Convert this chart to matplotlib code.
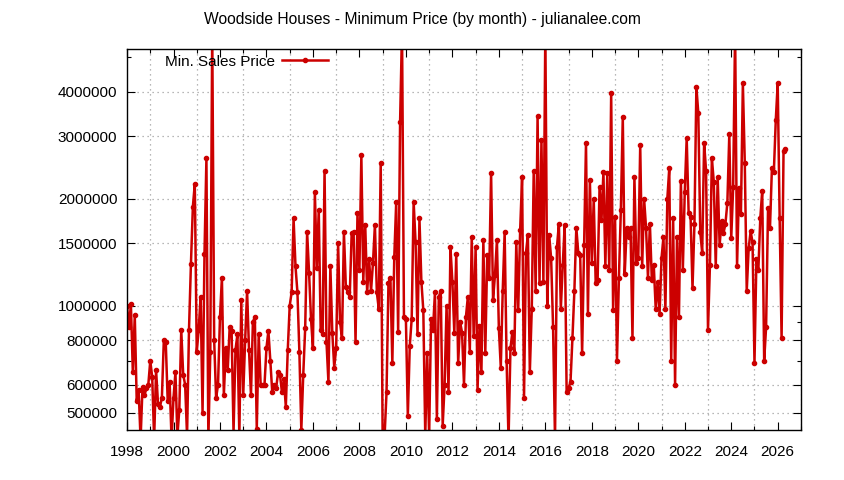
import matplotlib
matplotlib.use("Agg")
import matplotlib.pyplot as plt
from matplotlib.ticker import FixedLocator, FixedFormatter, MultipleLocator, NullFormatter
import numpy as np

# Monthly minimum sales price (in millions), Jan 1998 onwards
prices_m = [
    1.0, 0.87, 1.01, 0.65, 0.94, 0.54, 0.58, 0.42, 0.59, 0.56, 0.585, 0.60,
    0.70, 0.63, 0.42, 0.66, 0.53, 0.52, 0.55, 0.80, 0.79, 0.54, 0.61, 0.42,
    0.55, 0.65, 0.43, 0.51, 0.855, 0.64, 0.6, 0.43, 0.855, 1.31, 1.9, 2.2,
    0.74, 0.855, 1.06, 0.5, 1.4, 2.6, 0.42, 0.74, 6.0, 0.8, 0.55, 0.6,
    0.93, 1.2, 0.56, 0.76, 0.66, 0.87, 0.85, 0.44, 0.75, 0.83, 0.43, 1.04,
    0.56, 0.8, 1.1, 0.75, 0.56, 0.9, 0.93, 0.45, 0.83, 0.6, 0.6, 0.6,
    0.76, 0.85, 0.7, 0.57, 0.6, 0.585, 0.65, 0.64, 0.57, 0.62, 0.52, 0.75,
    # 2005 - 2007
    1.0, 1.09, 1.76, 1.29, 1.09, 0.74, 0.447, 0.64, 0.865, 1.61, 1.24, 0.92,
    0.76, 2.09, 1.28, 1.86, 0.855, 0.83, 2.4, 0.79, 0.61, 1.29, 0.84, 0.67,
    0.76, 1.5, 0.9, 0.81, 1.61, 1.13, 1.09, 1.06, 1.6,
    # 2008 - 2010
    1.61, 0.79, 1.82, 1.26, 2.65, 1.17, 1.69, 1.09, 1.35, 1.1, 1.32, 1.69,
    1.09, 0.98, 2.52, 0.42, 0.43, 0.57, 1.16, 1.2, 0.69, 1.37, 1.96, 0.845,
    3.28, 6.0, 0.93, 0.92, 0.49, 0.77, 0.92,
    # 2010 - 2013
    1.96, 1.51, 0.83, 1.76, 1.17, 0.97, 0.43, 0.735, 0.43, 0.92, 0.855, 1.09,
    0.48, 1.06, 1.1, 0.46, 0.6, 1.0, 0.57, 1.46, 1.17, 0.84, 1.4, 0.69,
    0.9, 0.84, 0.6, 0.93, 1.06, 0.74, 1.56, 0.82,
    # 2013 - 2016
    1.46, 0.58, 0.875, 0.65, 1.53, 0.735, 1.39, 1.2, 2.36, 1.04, 1.22, 1.53,
    0.865, 0.67, 1.1, 1.61, 0.7, 0.42, 0.76, 0.845, 0.735, 1.51, 0.97, 1.63,
    2.3, 0.55, 1.41, 1.58, 0.65, 0.98, 2.39, 1.1,
    # 2016 - 2018
    3.42, 1.16, 2.92, 1.17, 6.0, 1.0, 1.58, 1.36, 0.87, 0.42, 1.46, 1.7,
    0.98, 1.3, 1.69, 0.57, 0.587, 0.61, 0.81, 1.1, 1.66, 1.41, 1.39, 0.735,
    1.48, 2.87, 0.95, 2.26, 1.32, 2.0, 1.16,
    # 2019 - 2021
    1.18, 2.16, 1.74, 2.38, 1.29, 2.36, 1.26, 3.97, 0.97, 1.78, 0.7, 1.2,
    1.86, 3.4, 1.23, 1.65, 1.56, 1.65, 0.81, 2.3, 1.32, 1.36, 2.83, 1.29,
    2.0, 1.66, 1.2, 1.7, 1.18, 1.3, 0.98, 1.17,
    # 2021 - 2023
    0.95, 1.36, 1.56, 0.98, 2.0, 2.44, 0.7, 1.76, 0.6, 1.56, 0.93, 2.24,
    1.26, 2.09, 2.97, 1.82, 1.78, 1.12, 1.7, 4.13, 3.48, 1.61, 1.41, 2.87,
    2.4, 0.855, 1.3, 2.6, 2.23, 1.29, 2.3, 1.48,
    # 2024 - 2026
    1.73, 1.6, 1.7, 1.95, 3.04, 1.55, 2.16, 6.0, 1.29, 2.14, 1.81, 4.23,
    2.52, 1.1, 1.45, 1.62, 1.51, 0.69, 1.35, 1.26, 1.76, 2.11, 0.7, 0.87,
    1.88, 1.65, 2.44, 2.38, 3.33, 4.23, 1.76, 0.81, 2.72, 2.76,
]

ytick_values = [500000, 600000, 800000, 1000000, 1500000, 2000000, 3000000, 4000000]
yminor_values = [700000, 900000, 5000000]
xtick_years = list(range(1998, 2027, 2))

prices = np.array(prices_m) * 1e6
months = 1998 + np.arange(len(prices)) / 12.0

red = "#cc0000"

fig = plt.figure(figsize=(8.44, 4.8), dpi=100)
ax = fig.add_axes([0.1505, 0.1042, 0.7985, 0.7938])

ax.plot(months, prices, color=red, lw=1.8, marker="o", ms=3,
        label="Min. Sales Price", clip_on=True)

ax.set_yscale("log")
ax.set_ylim(447000, 5280000)
ax.set_xlim(1998, 2027)

ax.yaxis.set_major_locator(FixedLocator(ytick_values))
ax.yaxis.set_major_formatter(FixedFormatter([str(v) for v in ytick_values]))
ax.yaxis.set_minor_locator(FixedLocator(yminor_values))
ax.yaxis.set_minor_formatter(NullFormatter())

ax.xaxis.set_major_locator(FixedLocator(xtick_years))
ax.xaxis.set_major_formatter(FixedFormatter([str(y) for y in xtick_years]))
ax.xaxis.set_minor_locator(MultipleLocator(1))

ax.tick_params(which="both", direction="in", top=True, right=True,
               labelsize=11, width=0.8)
ax.tick_params(which="major", length=6)
ax.tick_params(which="minor", length=3)
ax.tick_params(axis="x", which="major", pad=11)
ax.tick_params(axis="y", which="major", pad=7)

# gnuplot style dotted grid
ax.grid(True, axis="y", which="major", color="#a0a0a0", lw=0.9, ls=(0, (1, 3)))
ax.grid(True, axis="x", which="minor", color="#a0a0a0", lw=0.9, ls=(0, (1, 3)))

for label in ax.get_xticklabels() + ax.get_yticklabels():
    label.set_fontfamily("Liberation Sans")

for sp in ax.spines.values():
    sp.set_linewidth(1.0)

leg = ax.legend(loc="upper left", bbox_to_anchor=(0.056, 0.985), frameon=False,
                markerfirst=False, borderpad=0, borderaxespad=0,
                handlelength=3.0, handletextpad=0.5,
                prop={"family": "Liberation Sans", "size": 11})

fig.text(0.5, 0.96, "Woodside Houses - Minimum Price (by month) - julianalee.com",
         ha="center", va="center", fontsize=11.25, family="Liberation Sans")

fig.savefig("out.png", dpi=100)
